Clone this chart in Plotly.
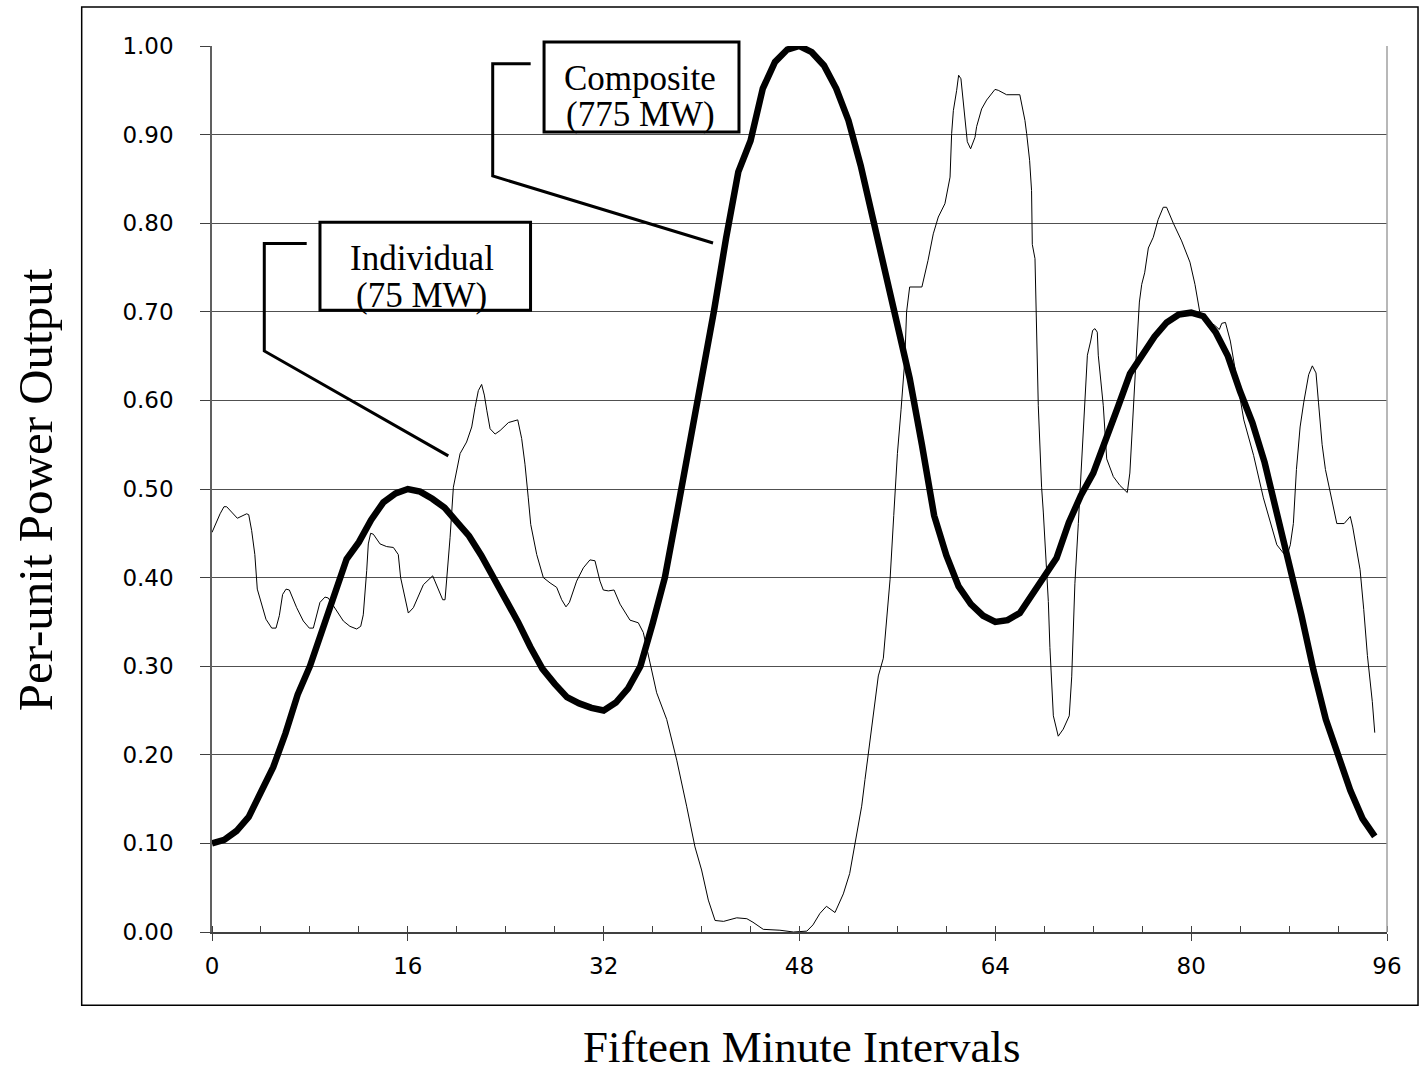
import plotly.graph_objects as go

# ---------------- data ----------------
comp_x = list(range(0, 96))
comp_y = [0.100, 0.104, 0.114, 0.130, 0.158, 0.186, 0.224, 0.268, 0.300, 0.340,
          0.383, 0.421, 0.440, 0.465, 0.485, 0.495, 0.500, 0.497, 0.489, 0.479,
          0.463, 0.447, 0.425, 0.400, 0.377, 0.350, 0.322, 0.297, 0.280, 0.265,
          0.258, 0.253, 0.250, 0.259, 0.275, 0.300, 0.348, 0.400, 0.474, 0.548,
          0.617, 0.700, 0.783, 0.858, 0.893, 0.952, 0.982, 0.996, 1.000, 0.993,
          0.978, 0.952, 0.916, 0.865, 0.805, 0.745, 0.680, 0.625, 0.550, 0.470,
          0.425, 0.390, 0.370, 0.357, 0.350, 0.352, 0.360, 0.380, 0.400, 0.422,
          0.462, 0.493, 0.518, 0.553, 0.592, 0.630, 0.652, 0.672, 0.688, 0.697,
          0.699, 0.695, 0.677, 0.650, 0.610, 0.575, 0.530, 0.472, 0.420, 0.358,
          0.295, 0.240, 0.200, 0.160, 0.128, 0.108]

ind_x = [0.00, 0.66, 0.98, 1.20, 1.60, 2.07, 2.83, 3.00, 3.24, 3.50, 3.70, 4.06, 4.41,
         4.88, 5.23, 5.50, 5.77, 6.05, 6.32, 6.92, 7.46, 7.95, 8.28, 8.82, 9.23, 9.50,
         10.05, 10.73, 11.27, 11.82, 12.15, 12.36, 12.64, 12.77, 12.96, 13.18, 13.73,
         14.27, 14.82, 15.22, 15.41, 15.69, 16.04, 16.45, 17.27, 18.03, 18.36, 18.85,
         19.04, 19.17, 19.45, 19.72, 19.99, 20.27, 20.80, 21.22, 21.49, 21.76, 22.03,
         22.25, 22.45, 22.72, 23.13, 23.54, 24.22, 24.63, 24.98, 25.30, 25.57, 25.84,
         26.04, 26.53, 27.07, 27.62, 28.16, 28.57, 28.92, 29.20, 29.79, 30.34, 30.88,
         31.29, 31.70, 31.97, 32.38, 32.85, 33.34, 34.15, 34.83, 35.24, 35.80, 36.33,
         37.15, 37.97, 38.78, 39.46, 40.00, 40.55, 41.10, 41.80, 42.87, 43.70, 44.20,
         45.04, 46.40, 47.50, 48.60, 49.10, 49.67, 50.20, 50.90, 51.58, 52.10, 52.67,
         53.08, 53.35, 53.60, 54.03, 54.44, 54.85, 55.12, 55.40, 55.70, 56.00, 56.30,
         56.60, 56.75, 57.00, 58.00, 58.50, 58.93, 59.34, 59.88, 60.30, 60.43, 60.57,
         60.84, 61.00, 61.19, 61.38, 61.52, 61.71, 61.98, 62.34, 62.47, 62.88, 63.29,
         63.97, 64.24, 64.92, 66.00, 66.15, 66.42, 66.56, 66.80, 66.96, 67.02, 67.24,
         67.38, 67.51, 67.78, 67.92, 68.33, 68.46, 68.74, 69.14, 69.55, 70.04, 70.24,
         70.50, 70.78, 71.05, 71.32, 71.52, 71.79, 71.95, 72.14, 72.33, 72.41, 72.60,
         72.82, 73.10, 73.64, 74.18, 74.78, 74.99, 75.20, 75.40, 75.50, 75.77, 75.96,
         76.20, 76.50, 76.90, 77.30, 77.72, 77.99, 78.54, 79.22, 79.90, 80.31, 80.70,
         81.26, 81.90, 82.30, 82.50, 82.80, 83.20, 84.30, 85.10, 85.90, 87.00, 87.80,
         88.10, 88.35, 88.60, 88.90, 89.20, 89.60, 89.90, 90.20, 90.40, 90.70, 90.97,
         91.40, 91.90, 92.50, 93.00, 93.20, 93.40, 93.80, 94.10, 94.40, 94.80, 95.00]
ind_y = [0.451, 0.472, 0.480, 0.480, 0.474, 0.467, 0.472, 0.471, 0.453, 0.426, 0.387, 0.370, 0.353,
         0.343, 0.343, 0.357, 0.381, 0.387, 0.386, 0.366, 0.351, 0.343, 0.343, 0.372, 0.378, 0.377,
         0.366, 0.351, 0.345, 0.342, 0.345, 0.358, 0.408, 0.438, 0.450, 0.449, 0.438,
         0.435, 0.434, 0.426, 0.400, 0.383, 0.360, 0.366, 0.392, 0.402, 0.391, 0.375,
         0.375, 0.396, 0.445, 0.502, 0.521, 0.540, 0.553, 0.570, 0.592, 0.611, 0.618,
         0.606, 0.589, 0.568, 0.562, 0.566, 0.575, 0.577, 0.578, 0.557, 0.528, 0.490,
         0.460, 0.426, 0.400, 0.394, 0.389, 0.375, 0.367, 0.372, 0.396, 0.411, 0.420,
         0.419, 0.396, 0.386, 0.385, 0.386, 0.370, 0.352, 0.349, 0.338, 0.302, 0.270,
         0.240, 0.194, 0.142, 0.096, 0.070, 0.036, 0.013, 0.012, 0.016, 0.015, 0.011,
         0.003, 0.002, 0.000, 0.001, 0.008, 0.021, 0.029, 0.022, 0.043, 0.066, 0.108,
         0.142, 0.172, 0.200, 0.247, 0.289, 0.309, 0.353, 0.398, 0.470, 0.540, 0.590,
         0.645, 0.700, 0.728, 0.728, 0.758, 0.788, 0.807, 0.822, 0.852, 0.901, 0.927,
         0.950, 0.967, 0.963, 0.935, 0.916, 0.892, 0.884, 0.897, 0.909, 0.929, 0.939,
         0.951, 0.950, 0.945, 0.945, 0.935, 0.916, 0.901, 0.871, 0.837, 0.776, 0.760,
         0.650, 0.594, 0.502, 0.474, 0.373, 0.321, 0.244, 0.221, 0.229, 0.244, 0.288,
         0.393, 0.461, 0.530, 0.602, 0.651, 0.667, 0.679, 0.681, 0.677, 0.651, 0.627,
         0.594, 0.534, 0.514, 0.504, 0.496, 0.518, 0.574, 0.635, 0.647, 0.711, 0.731,
         0.744, 0.772, 0.784, 0.804, 0.818, 0.818, 0.800, 0.780, 0.756, 0.731, 0.700,
         0.690, 0.685, 0.680, 0.687, 0.688, 0.667, 0.578, 0.538, 0.490, 0.437, 0.423,
         0.437, 0.461, 0.522, 0.570, 0.598, 0.629, 0.639, 0.631, 0.598, 0.550, 0.522,
         0.494, 0.461, 0.461, 0.469, 0.457, 0.441, 0.409, 0.364, 0.312, 0.260, 0.225]

x_ticks = [0, 16, 32, 48, 64, 80, 96]
y_ticks = [0.0, 0.1, 0.2, 0.3, 0.4, 0.5, 0.6, 0.7, 0.8, 0.9, 1.0]
x_title = "Fifteen Minute Intervals"
y_title = "Per-unit Power Output"
label_composite = ["Composite", "(775 MW)"]
label_individual = ["Individual", "(75 MW)"]

# ---------------- figure ----------------
fig = go.Figure()
fig.add_trace(go.Scatter(x=ind_x, y=ind_y, mode="lines",
                         line=dict(color="black", width=1), cliponaxis=False,
                         showlegend=False, hoverinfo="skip"))
fig.add_trace(go.Scatter(x=comp_x, y=comp_y, mode="lines",
                         line=dict(color="black", width=6.5), cliponaxis=False,
                         showlegend=False, hoverinfo="skip"))

tickfont = dict(family="DejaVu Sans", size=23, color="black")
serif = "Liberation Serif"

fig.update_layout(
    width=1422, height=1071,
    margin=dict(l=212, r=35, t=46, b=139),
    paper_bgcolor="white", plot_bgcolor="white",
    xaxis=dict(range=[0, 96], tickvals=x_ticks, ticktext=[str(v) for v in x_ticks],
               showgrid=False, zeroline=False, showline=True,
               linecolor="#404040", linewidth=1.5,
               ticks="outside", ticklen=7, tickwidth=1.2, tickcolor="#404040",
               minor=dict(dtick=4, tick0=0, ticks="inside", ticklen=6,
                          tickwidth=1, tickcolor="#404040", showgrid=False),
               tickfont=tickfont, ticklabelstandoff=6),
    yaxis=dict(range=[0, 1], tickvals=y_ticks, tickformat=".2f",
               showgrid=True, gridcolor="#505050", gridwidth=1,
               zeroline=False, showline=True, linecolor="#606060", linewidth=1.5,
               ticks="outside", ticklen=10, tickwidth=1.2, tickcolor="#404040",
               tickfont=tickfont, ticklabelstandoff=22),
)

shapes = []
# outer frame
shapes.append(dict(type="rect", xref="paper", yref="paper",
                   x0=-0.1109, x1=1.0264, y0=-0.0827, y1=1.0440,
                   line=dict(color="black", width=1.5), layer="below"))
# plot area right border
shapes.append(dict(type="line", xref="paper", yref="paper",
                   x0=1, x1=1, y0=0, y1=1, line=dict(color="#a0a0a0", width=1.5)))
# label boxes
shapes.append(dict(type="rect", xref="paper", yref="paper",
                   x0=0.2826, x1=0.4485, y0=0.9029, y1=1.0045,
                   line=dict(color="black", width=3), fillcolor="white"))
shapes.append(dict(type="rect", xref="paper", yref="paper",
                   x0=0.0919, x1=0.2711, y0=0.7017, y1=0.8010,
                   line=dict(color="black", width=3), fillcolor="white"))
# callout lines
shapes.append(dict(type="path", xref="paper", yref="paper",
                   path="M 0.2712 0.9801 L 0.2389 0.9801 L 0.2389 0.8533 L 0.4264 0.7777",
                   line=dict(color="black", width=3)))
shapes.append(dict(type="path", xref="paper", yref="paper",
                   path="M 0.0806 0.7770 L 0.0445 0.7770 L 0.0445 0.6558 L 0.2011 0.5374",
                   line=dict(color="black", width=3)))
fig.update_layout(shapes=shapes)

lab_font = dict(family=serif, size=35, color="black")
annotations = [
    dict(text=label_composite[0], xref="paper", yref="paper", x=0.3643, y=0.9635,
         xanchor="center", yanchor="middle", showarrow=False, font=lab_font),
    dict(text=label_composite[1], xref="paper", yref="paper", x=0.3643, y=0.9229,
         xanchor="center", yanchor="middle", showarrow=False, font=lab_font),
    dict(text=label_individual[0], xref="paper", yref="paper", x=0.1787, y=0.7604,
         xanchor="center", yanchor="middle", showarrow=False, font=lab_font),
    dict(text=label_individual[1], xref="paper", yref="paper", x=0.1787, y=0.7186,
         xanchor="center", yanchor="middle", showarrow=False, font=lab_font),
    dict(text=x_title, xref="paper", yref="paper", x=0.502, y=-0.1301,
         xanchor="center", yanchor="middle", showarrow=False,
         font=dict(family=serif, size=45, color="black")),
    dict(text=y_title, xref="paper", yref="paper", x=-0.1506, y=0.4985,
         xanchor="center", yanchor="middle", showarrow=False, textangle=-90,
         font=dict(family=serif, size=49, color="black")),
]
fig.update_layout(annotations=annotations)

fig.write_html("out.html", config={"displayModeBar": False},
               post_script="document.body.style.margin='0';document.body.style.overflow='hidden';")
